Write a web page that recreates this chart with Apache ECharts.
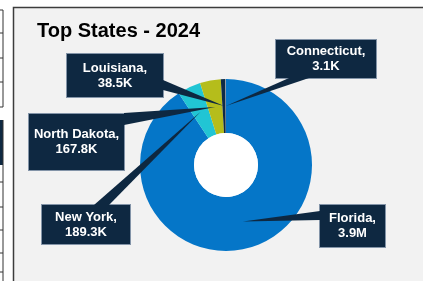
<!DOCTYPE html>
<html>
<head>
<meta charset="utf-8">
<script src="https://cdn.jsdelivr.net/npm/echarts@6/dist/echarts.min.js"></script>
<style>
html, body { margin: 0; padding: 0; background: #fff; }
#main { width: 423px; height: 281px; }
</style>
</head>
<body>
<div id="main"></div>
<script>
var states = ['Florida', 'New York', 'North Dakota', 'Louisiana', 'Connecticut'];
var amounts = [3900000, 189300, 167800, 38500, 3100];
var amountText = ['3.9M', '189.3K', '167.8K', '38.5K', '3.1K'];

var sliceColors = ['#0576c8', '#21c5d4', '#b5bd1b', '#0e2a46', '#dfe5ea'];
var calloutFill = '#0e2841';
// callout boxes [left, top, width, height] and pointer base [x1, y1, x2, y2]
var boxes = [
	[319, 204, 67, 44],
	[41, 204, 90, 41],
	[28, 113, 97, 58],
	[66, 53, 98, 45],
	[275, 39, 102, 40]
];
var bases = [
	[320, 211, 320, 220],
	[94, 205, 109, 205],
	[124, 113, 124, 125],
	[163, 80, 163, 90],
	[289, 78, 309, 78]
];

var chart = echarts.init(document.getElementById('main'));

var pieData = [];
for (var i = 0; i < states.length; i++) {
	var b = boxes[i];
	pieData.push({
		name: states[i],
		value: amounts[i],
		itemStyle: { color: sliceColors[i] },
		label: { width: b[2] - 2, padding: [(b[3] - 30) / 2 - 1, 0] }
	});
}

// scraps of the neighbouring table on the left edge
var scraps = [
	{ type: 'line', shape: { x1: 3, y1: 10, x2: 3, y2: 107 } },
	{ type: 'rect', shape: { x: 0, y: 120, width: 3, height: 45 }, style: { fill: calloutFill } },
	{ type: 'line', shape: { x1: 3, y1: 120, x2: 3, y2: 281 } }
];
[10, 33, 58, 82, 107, 182, 207, 230, 253, 272].forEach(function(y) {
	scraps.push({ type: 'line', shape: { x1: 0, y1: y, x2: 3, y2: y } });
});
scraps.forEach(function(s) {
	s.silent = true;
	if (s.type == 'line') s.style = { stroke: '#333', lineWidth: 1 };
});

chart.setOption({
	animation: false,
	backgroundColor: '#fff',
	title: {
		text: 'Top States - 2024',
		left: 37,
		top: 21,
		padding: 0,
		textStyle: {
			fontFamily: 'Liberation Sans',
			fontSize: 20,
			fontWeight: 'bold',
			color: '#000'
		}
	},
	graphic: [{
		type: 'rect',
		z: -10,
		silent: true,
		shape: { x: 13.5, y: 7.5, width: 420, height: 290 },
		style: { fill: '#f2f2f2', stroke: '#3c3c3c', lineWidth: 1.5 }
	}].concat(scraps),
	series: [{
		type: 'pie',
		center: [226, 165],
		radius: [32, 86],
		startAngle: 90,
		avoidLabelOverlap: false,
		silent: true,
		emphasis: { disabled: true },
		itemStyle: { borderWidth: 0 },
		labelLine: { show: false },
		label: {
			show: true,
			formatter: function(p) {
				return p.name + ',\n' + amountText[p.dataIndex];
			},
			color: '#fff',
			fontFamily: 'Liberation Sans',
			fontWeight: 'bold',
			fontSize: 13,
			lineHeight: 15,
			align: 'center',
			backgroundColor: calloutFill,
			borderColor: '#8394a8',
			borderWidth: 1
		},
		labelLayout: function(params) {
			var b = boxes[params.dataIndex];
			return {
				x: b[0] + b[2] / 2,
				y: b[1] + b[3] / 2,
				align: 'center',
				verticalAlign: 'middle'
			};
		},
		data: pieData
	}]
});

// white hole and callout pointers, placed from the pie's own layout
var list = chart.getModel().getSeriesByIndex(0).getData();
var extras = [];
var first = list.getItemLayout(0);
extras.push({
	type: 'circle', z: 5, silent: true,
	shape: { cx: first.cx, cy: first.cy, r: first.r0 },
	style: { fill: '#fff' }
});
for (var j = 0; j < states.length; j++) {
	var lay = list.getItemLayout(j);
	var mid = (lay.startAngle + lay.endAngle) / 2;
	var rr = (lay.r + lay.r0) / 2;
	var tip = [lay.cx + rr * Math.cos(mid), lay.cy + rr * Math.sin(mid)];
	var bs = bases[j];
	extras.push({
		type: 'polygon', z: 6, silent: true,
		shape: { points: [tip, [bs[0], bs[1]], [bs[2], bs[3]]] },
		style: { fill: calloutFill }
	});
}
chart.setOption({
	graphic: chart.getOption().graphic[0].elements.concat(extras)
});
</script>
</body>
</html>
